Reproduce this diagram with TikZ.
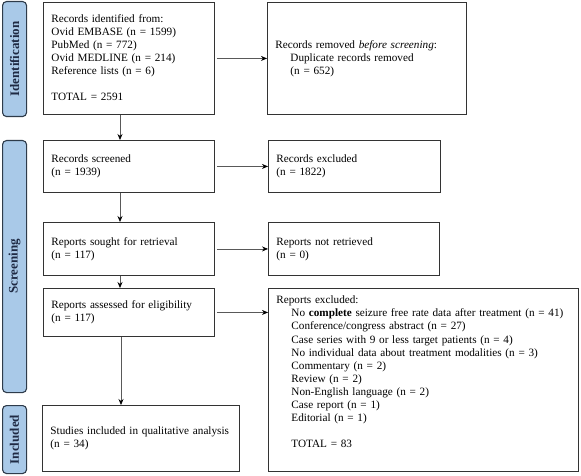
\documentclass[tikz,border=0pt]{standalone}
\usepackage{fontspec}
\setmainfont{Liberation Serif}
\usetikzlibrary{arrows.meta}
\definecolor{barfill}{HTML}{A9C9E8}
\definecolor{barline}{HTML}{2E3B4A}
\definecolor{bartext}{HTML}{1F2A44}
\tikzset{
  box/.style={draw=black!80, line width=0.9pt, align=left, anchor=north west,
    inner xsep=8pt, inner ysep=0pt, font=\fontsize{11.2}{13.1}\selectfont},
  bar/.style={draw=barline, fill=barfill, line width=1.1pt, rounded corners=4pt, anchor=north west,
    inner sep=0pt, minimum width=24pt},
  barlabel/.style={rotate=90, font=\fontsize{13}{14}\selectfont\bfseries, text=bartext},
  arr/.style={draw=black!65, line width=0.7pt, -{Stealth[black,length=6pt,width=5pt]}}
}
\newcommand{\ii}{\hspace*{15pt}}
\begin{document}
\begin{tikzpicture}[x=1pt,y=-1pt]
\useasboundingbox (0,0) rectangle (581,476);
% side bars
\node[bar, minimum height=115pt] (idb) at (2,1) {};
\node[barlabel] (idl) at (idb.center) {Identification};
\node[bar, minimum height=252pt] (scb) at (2,140) {};
\node[barlabel] (scl) at (scb.center) {Screening};
\node[bar, minimum height=68pt] (inb) at (2,405) {};
\node[barlabel] (inl) at (inb.center) {Included};
% boxes
\node[box, text width=155pt, minimum height=112pt] (b1) at (43,2) {\mbox{}\\[-7pt]Records identified from:\\Ovid EMBASE (n = 1599)\\PubMed (n = 772)\\Ovid MEDLINE (n = 214)\\Reference lists (n = 6)\\[13.1pt]TOTAL = 2591};
\node[box, text width=183pt, minimum height=112pt] (rem) at (267,2) {Records removed \emph{before screening}:\\\ii Duplicate records removed\\\ii (n = 652)};
\node[box, text width=155pt, minimum height=52pt] (scr) at (43,140) {Records screened\\(n = 1939)};
\node[box, text width=156pt, minimum height=52pt] (exc) at (268,140) {Records excluded\\(n = 1822)};
\node[box, text width=155pt, minimum height=53pt] (sou) at (43,222) {Reports sought for retrieval\\(n = 117)};
\node[box, text width=155pt, minimum height=53pt] (nre) at (268,222) {Reports not retrieved\\(n = 0)};
\node[box, text width=155pt, minimum height=48pt] (ass) at (43,288) {Reports assessed for eligibility\\(n = 117)};
\node[box, text width=294pt, minimum height=183pt] (rex) at (268,288) {Reports excluded:\\
\ii No \textbf{complete} seizure free rate data after treatment (n = 41)\\
\ii Conference/congress abstract (n = 27)\\
\ii Case series with 9 or less target patients (n = 4)\\
\ii No individual data about treatment modalities (n = 3)\\
\ii Commentary (n = 2)\\
\ii Review (n = 2)\\
\ii Non-English language (n = 2)\\
\ii Case report (n = 1)\\
\ii Editorial (n = 1)\\[13.1pt]
\ii TOTAL = 83\\[3pt]\mbox{}};
\node[box, text width=181pt, minimum height=66pt] (inc) at (42,405) {Studies included in qualitative analysis\\(n = 34)};
% arrows
\draw[arr] ([xshift=2pt]b1.east) -- (b1.east -| rem.west);
\draw[arr] ([xshift=2pt]scr.east) -- (scr.east -| exc.west);
\draw[arr] ([xshift=2pt]sou.east) -- (sou.east -| nre.west);
\draw[arr] ([xshift=2pt]ass.east) -- (ass.east -| rex.west);
\draw[arr] ([xshift=77pt]b1.south west) coordinate (v1) -- (v1 |- scr.north);
\draw[arr] ([xshift=77pt]scr.south west) coordinate (v2) -- (v2 |- sou.north);
\draw[arr] ([xshift=77pt]sou.south west) coordinate (v3) -- (v3 |- ass.north);
\draw[arr] ([xshift=78pt]ass.south west) coordinate (v4) -- (v4 |- inc.north);
\end{tikzpicture}
\end{document}
